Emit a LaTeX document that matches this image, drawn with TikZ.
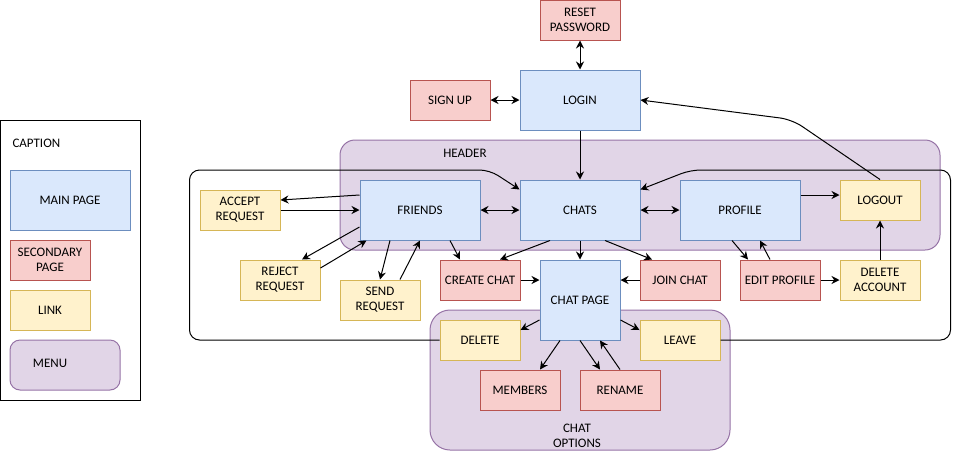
\documentclass[tikz,border=0pt]{standalone}
\usepackage{fontspec}
\setmainfont{Carlito}
\usetikzlibrary{arrows.meta}
\definecolor{mainfill}{HTML}{DAE8FC}
\definecolor{mainline}{HTML}{6C8EBF}
\definecolor{secfill}{HTML}{F8CECC}
\definecolor{secline}{HTML}{B85450}
\definecolor{linkfill}{HTML}{FFF2CC}
\definecolor{linkline}{HTML}{D6B656}
\definecolor{menufill}{HTML}{E1D5E7}
\definecolor{menuline}{HTML}{9673A6}
\tikzset{
    mainpage/.style={rectangle,draw=mainline,fill=mainfill,line width=1pt,
      minimum width=120pt,minimum height=60pt,align=center,inner sep=2pt},
    secpage/.style={rectangle,draw=secline,fill=secfill,line width=1pt,
      minimum width=80pt,minimum height=40pt,align=center,inner sep=2pt},
    linkbox/.style={rectangle,draw=linkline,fill=linkfill,line width=1pt,
      minimum width=80pt,minimum height=40pt,align=center,inner sep=2pt},
    menubox/.style={rectangle,rounded corners=15pt,draw=menuline,fill=menufill,line width=1pt},
    arr/.style={-{Stealth[length=8pt,width=8pt]},line width=1pt},
    darr/.style={{Stealth[length=8pt,width=8pt]}-{Stealth[length=8pt,width=8pt]},line width=1pt},
}
\begin{document}
\begin{tikzpicture}[x=1pt,y=-1pt,font=\fontsize{13}{15}\selectfont]
\useasboundingbox (0,0) rectangle (959,451);

% caption
\node[rectangle,draw,line width=1pt,minimum width=140pt,minimum height=280pt] (caption) at (70,260) {};
\node[anchor=west] (captiontext) at (9,143) {CAPTION};
\node[mainpage] (mainlegend) at (70,200) {MAIN PAGE};
\node[secpage] (seclegend) at (50,260) {SECONDARY\\PAGE};
\node[linkbox] (linklegend) at (50,310) {LINK};
\node[menubox,rounded corners=10pt,minimum width=110pt,minimum height=50pt] (menulegend) at (65,365) {};
\node (menutext) at (50,363) {MENU};

% menus
\node[menubox,minimum width=600pt,minimum height=110pt] (header) at (640,195) {};
\node (headertext) at (465,153) {HEADER};
\node[menubox,rounded corners=20pt,minimum width=300pt,minimum height=140pt] (options) at (580,380) {};
\node[align=center] (optionstext) at (577,436) {CHAT\\OPTIONS};

% pages
\node[secpage] (reset) at (580,20) {RESET\\PASSWORD};
\node[secpage] (signup) at (450,100) {SIGN UP};
\node[mainpage] (login) at (580,100) {LOGIN};

\node[mainpage] (friends) at (420,210) {FRIENDS};
\node[mainpage] (chats) at (580,210) {CHATS};
\node[mainpage] (profile) at (740,210) {PROFILE};
\node[linkbox] (logout) at (880,200) {LOGOUT};

\node[linkbox] (accept) at (240,210) {ACCEPT\\REQUEST};
\node[linkbox] (reject) at (280,280) {REJECT\\REQUEST};
\node[linkbox] (send) at (380,300) {SEND\\REQUEST};
\node[secpage] (create) at (480,280) {CREATE CHAT};
\node[mainpage,minimum width=80pt,minimum height=80pt] (chatpage) at (580,300) {CHAT PAGE};
\node[secpage] (join) at (680,280) {JOIN CHAT};
\node[secpage] (edit) at (780,280) {EDIT PROFILE};
\node[linkbox] (delacc) at (880,280) {DELETE\\ACCOUNT};

\node[linkbox] (delete) at (480,340) {DELETE};
\node[linkbox] (leave) at (680,340) {LEAVE};
\node[secpage] (members) at (520,390) {MEMBERS};
\node[secpage] (rename) at (620,390) {RENAME};

% login
\draw[darr] (reset.south)--(login.north);
\draw[darr] (signup.east)--(login.west);
\draw[arr] (login.south)--(chats.north);
\draw[arr,rounded corners=12pt] (logout.north)--++(-88,-60)--(login.east);

% header
\draw[darr] (friends.east)--(chats.west);
\draw[darr] (chats.east)--(profile.west);
\draw[arr] ([yshift=15pt]profile.east)--([yshift=5pt]logout.west);

% friends
\draw[arr] ([yshift=15pt]friends.west)--([yshift=10pt]accept.east);
\draw[arr] (accept.east)--(friends.west);
\draw[arr] ([yshift=-17pt]friends.west)--([xshift=22pt]reject.north);
\draw[arr] ([yshift=12pt]reject.east)--([xshift=7pt]friends.south west);
\draw[arr] ([xshift=-30pt]friends.south)--(send.north);
\draw[arr] ([xshift=20pt]send.north)--(friends.south);
\draw[arr] ([xshift=30pt]friends.south)--([xshift=-20pt]create.north);

% chats
\draw[arr] ([xshift=-30pt]chats.south)--([xshift=20pt]create.north);
\draw[arr] (chats.south)--(chatpage.north);
\draw[arr] ([xshift=25pt]chats.south)--([xshift=-28pt]join.north);
\draw[arr] (create.east)--([yshift=20pt]chatpage.west);
\draw[arr] (join.west)--([yshift=20pt]chatpage.east);

% profile
\draw[arr] ([xshift=-8pt]profile.south)--([xshift=-32pt]edit.north);
\draw[arr] ([xshift=-10pt]edit.north)--([xshift=20pt]profile.south);
\draw[arr] (edit.east)--(delacc.west);
\draw[arr] (delacc.north)--(logout.south);

% chat options
\draw[arr] ([yshift=-20pt]chatpage.west)--([yshift=10pt]delete.east);
\draw[arr] ([yshift=-20pt]chatpage.east)--([yshift=10pt]leave.west);
\draw[arr] ([xshift=-20pt]chatpage.south)--([xshift=20pt]members.north);
\draw[arr] (chatpage.south)--([xshift=-20pt]rename.north);
\draw[arr] (rename.north)--([xshift=20pt]chatpage.south);

% back to chats
\draw[arr,rounded corners=10pt] (delete.west)--++(-250,0)--++(0,-170)--++(300,0)--([yshift=-10pt]chats.north west);
\draw[arr,rounded corners=10pt] (leave.east)--++(230,0)--++(0,-170)--++(-260,0)--([yshift=-10pt]chats.north east);
\end{tikzpicture}
\end{document}
